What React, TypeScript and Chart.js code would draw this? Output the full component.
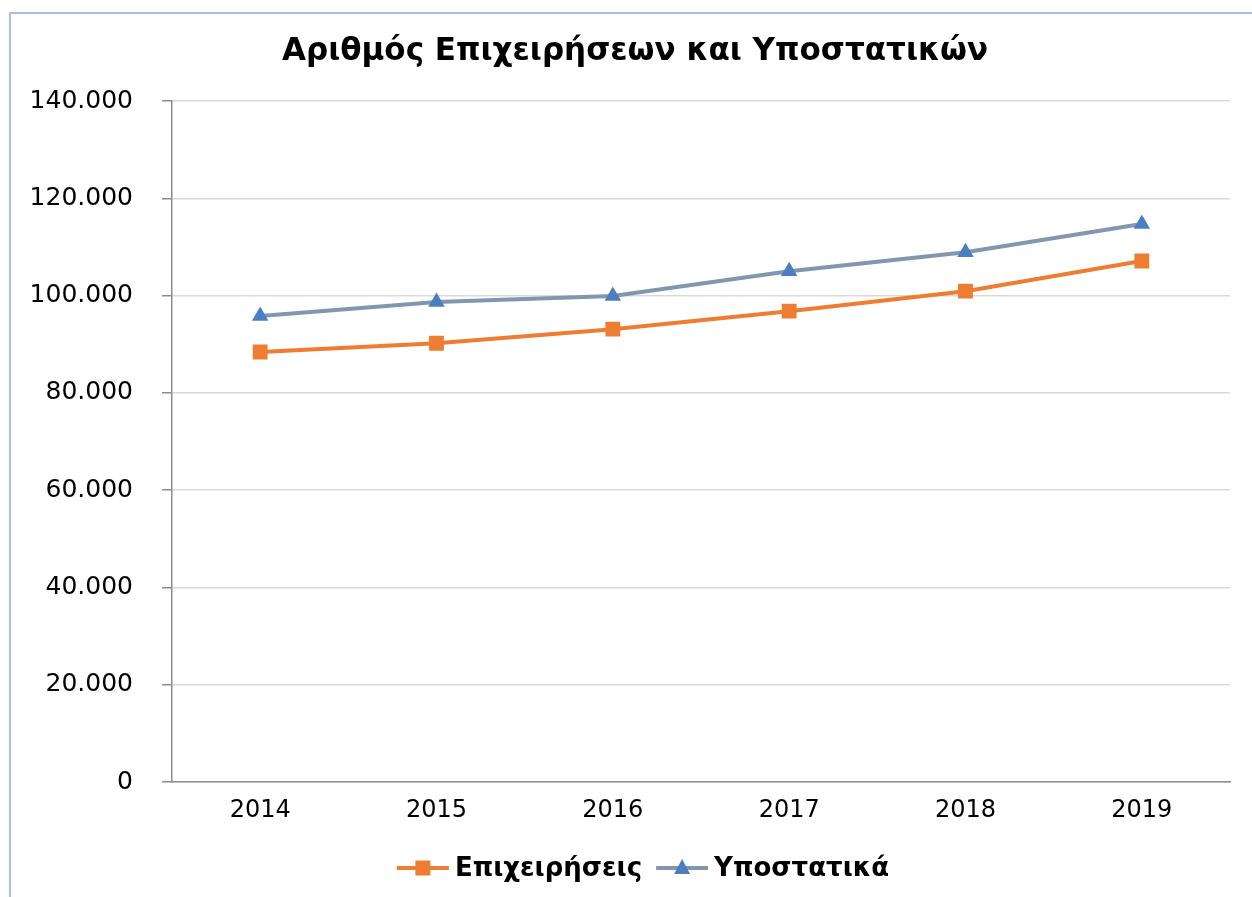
import React, { useEffect, useRef } from "react";
import { Chart, registerables } from "chart.js";

Chart.register(...registerables);

const years = ["2014", "2015", "2016", "2017", "2018", "2019"];
const businesses = [88400, 90200, 93100, 96800, 100900, 107100];
const premises = [95800, 98700, 99900, 105000, 108900, 114700];
const seriesNames = ["Επιχειρήσεις", "Υποστατικά"];
const chartTitle = "Αριθμός Επιχειρήσεων και Υποστατικών";

const ORANGE = "#ED7D31";
const GREYBLUE = "#8296B0";
const BLUE = "#4A7EC1";
const FONT = "'DejaVu Sans', Verdana, sans-serif";

const fmt = (v: number) => String(v).replace(/\B(?=(\d{3})+(?!\d))/g, ".");

const titleLegendPlugin = {
  id: "titleLegend",
  afterDraw(chart: any) {
    const ctx = chart.ctx;
    ctx.save();
    // title
    ctx.font = `bold 31px ${FONT}`;
    ctx.fillStyle = "#000";
    ctx.textAlign = "center";
    ctx.textBaseline = "middle";
    ctx.fillText(chartTitle, chart.width / 2 + 4, 39);
    // legend
    ctx.font = `bold 26px ${FONT}`;
    const lineLen = 52;
    const gapText = 6;
    const gapItems = 14;
    const items = [
      { text: seriesNames[0], line: ORANGE, marker: ORANGE, shape: "rect" },
      { text: seriesNames[1], line: GREYBLUE, marker: BLUE, shape: "tri" },
    ];
    const widths = items.map((it) => lineLen + gapText + ctx.measureText(it.text).width);
    const total = widths.reduce((a, b) => a + b, 0) + gapItems;
    let x = chart.width / 2 + 12 - total / 2;
    const y = chart.height - 29;
    items.forEach((it, i) => {
      ctx.strokeStyle = it.line;
      ctx.lineWidth = 4;
      ctx.beginPath();
      ctx.moveTo(x, y);
      ctx.lineTo(x + lineLen, y);
      ctx.stroke();
      const cx = x + lineLen / 2;
      ctx.fillStyle = it.marker;
      if (it.shape === "rect") {
        ctx.fillRect(cx - 7.5, y - 7.5, 15, 15);
      } else {
        ctx.beginPath();
        ctx.moveTo(cx, y - 9);
        ctx.lineTo(cx + 8, y + 6);
        ctx.lineTo(cx - 8, y + 6);
        ctx.closePath();
        ctx.fill();
      }
      ctx.fillStyle = "#000";
      ctx.textBaseline = "middle";
      ctx.textAlign = "left";
      ctx.fillText(it.text, x + lineLen + gapText, y + 1);
      x += widths[i] + gapItems;
    });
    ctx.restore();
  },
};

export default function App() {
  const ref = useRef<HTMLCanvasElement>(null);
  useEffect(() => {
    if (!ref.current) return;
    const chart = new Chart(ref.current, {
      type: "line",
      data: {
        labels: years,
        datasets: [
          {
            label: seriesNames[0],
            data: businesses,
            borderColor: ORANGE,
            backgroundColor: ORANGE,
            borderWidth: 4,
            pointStyle: "rect",
            pointRadius: 10.5,
            pointBorderWidth: 0,
            pointBackgroundColor: ORANGE,
            tension: 0,
          },
          {
            label: seriesNames[1],
            data: premises,
            borderColor: GREYBLUE,
            backgroundColor: BLUE,
            borderWidth: 4,
            pointStyle: "triangle",
            pointRadius: 9.5,
            pointBorderWidth: 0,
            pointBackgroundColor: BLUE,
            tension: 0,
          },
        ],
      },
      options: {
        animation: false,
        responsive: false,
        maintainAspectRatio: false,
        layout: { padding: { left: 0, right: 22, top: 88, bottom: 55 } },
        plugins: {
          legend: { display: false },
          tooltip: { enabled: false },
          title: { display: false },
        },
        scales: {
          x: {
            offset: true,
            grid: { display: false, drawTicks: false },
            border: { display: true, color: "#8c8c8c", width: 1.5 },
            ticks: { color: "#000", font: { family: FONT, size: 24 }, padding: 14 },
            afterFit: (s: any) => {
              s.height = 60;
            },
          },
          y: {
            min: 0,
            max: 140000,
            ticks: {
              stepSize: 20000,
              color: "#000",
              font: { family: FONT, size: 25 },
              padding: 29,
              callback: (v: any) => fmt(Number(v)),
            },
            grid: { color: "#d9d9d9", lineWidth: 1.5, tickLength: 10, tickColor: "#8c8c8c" },
            border: { display: true, color: "#8c8c8c", width: 1.5 },
            afterFit: (s: any) => {
              s.width = 162;
            },
          },
        },
      },
      plugins: [titleLegendPlugin],
    });
    return () => chart.destroy();
  }, []);

  return (
    <div style={{ position: "fixed", left: 0, top: 0, width: 1252, height: 897, background: "#fff", overflow: "hidden" }}>
      <div
        style={{
          position: "absolute",
          left: 9,
          top: 12,
          width: 1300,
          height: 1000,
          border: "2px solid #a9bde6",
          boxSizing: "border-box",
        }}
      />
      <canvas ref={ref} width={1242} height={884} style={{ position: "absolute", left: 10, top: 13, width: 1242, height: 884 }} />
    </div>
  );
}
